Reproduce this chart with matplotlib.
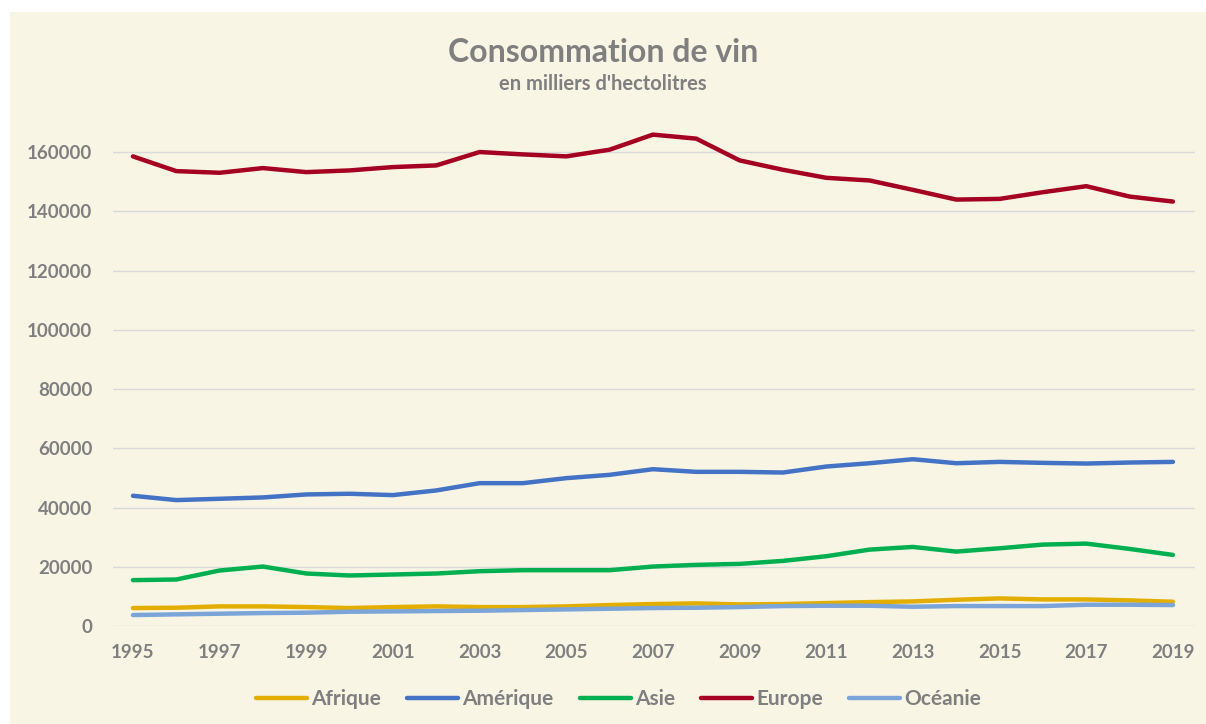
import matplotlib.pyplot as plt
from matplotlib.patches import Rectangle

plt.rcParams['font.family'] = ['Lato', 'DejaVu Sans']

years = list(range(1995, 2020))

afrique = [6060, 6170, 6620, 6620, 6390, 6060, 6390, 6620, 6390, 6390, 6620, 7070,
           7400, 7630, 7290, 7400, 7740, 8070, 8300, 8860, 9310, 8970, 8970, 8640, 8190]
amerique = [43960, 42500, 42950, 43400, 44410, 44640, 44190, 45760, 48220, 48220, 49910, 51030,
            52930, 52040, 52040, 51810, 53830, 54950, 56300, 54950, 55400, 55070, 54840, 55180, 55400]
asie = [15480, 15700, 18730, 20070, 17720, 17050, 17380, 17720, 18500, 18840, 18840, 18840,
        20070, 20640, 20970, 21980, 23550, 25790, 26690, 25120, 26240, 27480, 27810, 26020, 24000]
europe = [158530, 153560, 153000, 154580, 153220, 153790, 154920, 155480, 160000, 159200, 158530, 160790,
          165880, 164520, 157180, 154010, 151300, 150400, 147230, 143950, 144180, 146440, 148470, 144970, 143280]
oceanie = [3700, 3930, 4150, 4370, 4490, 4820, 4930, 5050, 5160, 5380, 5610, 5830,
           6060, 6170, 6390, 6730, 6840, 6840, 6500, 6730, 6730, 6730, 7180, 7180, 7070]

series = [
    ('Afrique', afrique, '#E3AE00'),
    ('Amérique', amerique, '#4472C4'),
    ('Asie', asie, '#00B050'),
    ('Europe', europe, '#A50021'),
    ('Océanie', oceanie, '#7BA5D8'),
]

bg = '#F8F5E5'
grey = '#7F7F7F'

fig = plt.figure(figsize=(12.06, 7.24), dpi=100, facecolor='white')
# cream chart area (white strip on top and left as in the source)
fig.patches.append(Rectangle((10 / 1206, 0), 1, 1 - 12 / 724, transform=fig.transFigure,
                             facecolor=bg, edgecolor='none', zorder=-10))

ax = fig.add_axes([113 / 1206, 98 / 724, 1082 / 1206, 518.4 / 724])
ax.set_facecolor(bg)

for name, vals, col in series:
    ax.plot(years, vals, color=col, linewidth=3.2, label=name, solid_capstyle='round')

ax.set_xlim(1994.54, 2019.51)
ax.set_ylim(0, 175000)
ax.set_yticks(range(0, 160001, 20000))
ax.set_xticks(years[::2])
ax.grid(axis='y', color='#D9D9D9', linewidth=1)
ax.set_axisbelow(True)
for s in ax.spines.values():
    s.set_visible(False)
ax.tick_params(length=0, labelsize=13.5, labelcolor=grey)
ax.tick_params(axis='x', pad=13)
ax.tick_params(axis='y', pad=15)
for lab in ax.get_xticklabels() + ax.get_yticklabels():
    lab.set_fontweight('bold')

fig.text(0.5, 1 - 52 / 724, 'Consommation de vin', ha='center', va='center',
         fontsize=23, fontweight='bold', color=grey)
fig.text(0.5, 1 - 84 / 724, "en milliers d'hectolitres", ha='center', va='center',
         fontsize=14.5, fontweight='bold', color=grey)

leg = fig.legend(loc='center', bbox_to_anchor=(0.513, 1 - 699 / 724), ncol=5, frameon=False,
                 fontsize=15, handlelength=2.45, handletextpad=0.2, columnspacing=1.25)
for t in leg.get_texts():
    t.set_color(grey)
    t.set_fontweight('bold')

fig.savefig('out.png', dpi=100, facecolor=fig.get_facecolor())
